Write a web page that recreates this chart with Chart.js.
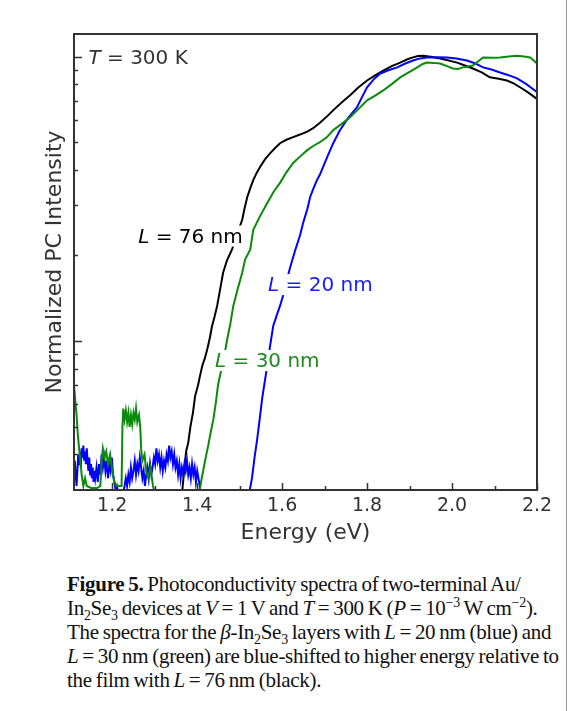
<!DOCTYPE html>
<html>
<head>
<meta charset="utf-8">
<script src="https://cdn.jsdelivr.net/npm/chart.js@4.4.1/dist/chart.umd.min.js"></script>
<style>
  html, body { margin: 0; padding: 0; background: #fff; }
  body { width: 584px; height: 711px; position: relative; overflow: hidden; }
  #wrap { position: absolute; left: 0; top: 0; width: 584px; height: 560px; }
  #edge { position: absolute; left: 566px; top: 0; width: 1px; height: 711px; background: #9a9a9a; }
  #caption {
    position: absolute; left: 67px; top: 572px; width: 498px;
    font-family: "Liberation Serif", "DejaVu Serif", serif;
    font-size: 21px; line-height: 24px; color: #111;
    letter-spacing: -0.3px; word-spacing: -1px; white-space: nowrap;
  }
  #caption i { font-style: italic; }
  #caption sub, #caption sup { font-size: 14px; line-height: 0; }
</style>
</head>
<body>
<div id="wrap"><canvas id="pc" width="584" height="560"></canvas></div>
<div id="edge"></div>
<div id="caption"><b>Figure 5.</b> Photoconductivity spectra of two-terminal Au/<br>In<sub>2</sub>Se<sub>3</sub> devices at <i>V</i>&thinsp;=&thinsp;1 V and <i>T</i>&thinsp;=&thinsp;300 K (<i>P</i>&thinsp;=&thinsp;10<sup>&minus;3</sup> W cm<sup>&minus;2</sup>).<br>The spectra for the <i>&beta;</i>-In<sub>2</sub>Se<sub>3</sub> layers with <i>L</i>&thinsp;=&thinsp;20 nm (blue) and<br><i>L</i>&thinsp;=&thinsp;30 nm (green) are blue-shifted to higher energy relative to<br>the film with <i>L</i>&thinsp;=&thinsp;76 nm (black).</div>
<script>
// photon energy (eV) and normalized PC intensity (log axis) per film
const blackE = [1.360, 1.366, 1.370, 1.374, 1.379, 1.384, 1.390, 1.395, 1.402, 1.407, 1.412, 1.418, 1.424, 1.430, 1.435, 1.441, 1.447, 1.454, 1.461, 1.470, 1.482, 1.494, 1.506, 1.512, 1.518, 1.525, 1.532, 1.540, 1.548, 1.560, 1.572, 1.584, 1.595, 1.610, 1.626, 1.642, 1.659, 1.673, 1.689, 1.705, 1.720, 1.740, 1.760, 1.780, 1.800, 1.820, 1.838, 1.858, 1.878, 1.895, 1.908, 1.920, 1.932, 1.950, 1.972, 1.990, 2.012, 2.030, 2.049, 2.070, 2.089, 2.110, 2.129, 2.145, 2.160, 2.178, 2.195, 2.200];
const blackI = [0.25, 0.31, 0.36, 0.41, 0.44, 0.50, 0.56, 0.64, 0.70, 0.76, 0.82, 0.87, 0.94, 1.03, 1.13, 1.22, 1.33, 1.52, 1.74, 1.92, 2.10, 2.38, 2.67, 2.95, 3.21, 3.45, 3.68, 3.90, 4.09, 4.36, 4.58, 4.78, 4.96, 5.10, 5.21, 5.32, 5.45, 5.60, 5.85, 6.15, 6.47, 6.90, 7.31, 7.80, 8.24, 8.60, 8.93, 9.25, 9.52, 9.78, 9.93, 10.05, 10.07, 9.98, 9.84, 9.70, 9.52, 9.30, 9.08, 8.80, 8.45, 8.35, 8.24, 8.05, 7.80, 7.50, 7.19, 7.10];

const greenE = [1.110, 1.113, 1.116, 1.119, 1.122, 1.125, 1.128, 1.132, 1.136, 1.140, 1.150, 1.165, 1.172, 1.175, 1.178, 1.182, 1.186, 1.190, 1.195, 1.200, 1.205, 1.210, 1.218, 1.222, 1.224, 1.226, 1.229, 1.232, 1.235, 1.238, 1.241, 1.244, 1.247, 1.250, 1.253, 1.256, 1.259, 1.263, 1.266, 1.268, 1.271, 1.276, 1.280, 1.285, 1.290, 1.296, 1.300, 1.405, 1.409, 1.414, 1.420, 1.426, 1.432, 1.438, 1.444, 1.449, 1.454, 1.459, 1.465, 1.471, 1.478, 1.485, 1.495, 1.506, 1.513, 1.525, 1.532, 1.548, 1.565, 1.580, 1.595, 1.610, 1.626, 1.642, 1.659, 1.673, 1.689, 1.705, 1.720, 1.740, 1.760, 1.780, 1.800, 1.820, 1.838, 1.858, 1.878, 1.898, 1.918, 1.930, 1.941, 1.956, 1.972, 1.988, 2.002, 2.014, 2.026, 2.038, 2.049, 2.061, 2.073, 2.093, 2.113, 2.133, 2.153, 2.170, 2.184, 2.195, 2.200];
const greenI = [0.70, 0.62, 0.55, 0.47, 0.42, 0.38, 0.34, 0.31, 0.33, 0.31, 0.305, 0.305, 0.31, 0.38, 0.42, 0.39, 0.41, 0.37, 0.40, 0.35, 0.32, 0.31, 0.31, 0.31, 0.50, 0.58, 0.53, 0.57, 0.52, 0.56, 0.50, 0.55, 0.51, 0.56, 0.53, 0.58, 0.52, 0.55, 0.50, 0.42, 0.38, 0.40, 0.35, 0.33, 0.36, 0.31, 0.29, 0.29, 0.32, 0.35, 0.39, 0.43, 0.48, 0.53, 0.61, 0.70, 0.76, 0.82, 0.91, 1.02, 1.15, 1.33, 1.52, 1.74, 1.94, 2.10, 2.46, 2.75, 3.06, 3.35, 3.60, 3.92, 4.23, 4.45, 4.69, 4.85, 5.00, 5.20, 5.51, 5.80, 6.12, 6.55, 7.02, 7.30, 7.60, 8.00, 8.45, 8.80, 9.16, 9.40, 9.52, 9.50, 9.45, 9.25, 9.08, 9.05, 9.16, 9.22, 9.30, 9.60, 9.93, 9.90, 9.93, 10.00, 10.07, 10.00, 9.93, 9.60, 9.45];

const blueE = [
  1.110, 1.112, 1.114, 1.116, 1.118, 1.120, 1.122, 1.124, 1.126, 1.128,
  1.130, 1.132, 1.134, 1.136, 1.138, 1.140, 1.142, 1.144, 1.146, 1.148,
  1.150, 1.152, 1.154, 1.156, 1.158, 1.160, 1.163, 1.166, 1.169, 1.172,
  1.175, 1.178, 1.181, 1.184, 1.187, 1.190, 1.193, 1.196, 1.199, 1.202,
  1.205, 1.208, 1.211, 1.215, 1.225, 1.229, 1.232, 1.235, 1.238, 1.241,
  1.244, 1.247, 1.250, 1.253, 1.256, 1.259, 1.262, 1.265, 1.268, 1.271,
  1.274, 1.277, 1.280, 1.283, 1.286, 1.289, 1.292, 1.295, 1.298, 1.301,
  1.304, 1.307, 1.310, 1.313, 1.316, 1.319, 1.322, 1.325, 1.328, 1.331,
  1.334, 1.337, 1.340, 1.343, 1.346, 1.349, 1.352, 1.355, 1.358, 1.361,
  1.364, 1.367, 1.370, 1.373, 1.376, 1.379, 1.382, 1.385, 1.388, 1.391,
  1.394, 1.397, 1.400, 1.403, 1.406, 1.410,
  1.515, 1.522, 1.529, 1.535, 1.541, 1.547, 1.553, 1.559, 1.565, 1.572, 1.579, 1.587, 1.595, 1.602, 1.610, 1.619, 1.630, 1.642, 1.650, 1.659, 1.666, 1.674, 1.682, 1.689, 1.706, 1.720, 1.736, 1.756, 1.776, 1.788, 1.800, 1.815, 1.831, 1.850, 1.871, 1.890, 1.908, 1.925, 1.941, 1.965, 1.988, 2.010, 2.035, 2.055, 2.073, 2.093, 2.113, 2.133, 2.153, 2.175, 2.195, 2.200];
const blueI = [
  0.33, 0.38, 0.34, 0.31, 0.35, 0.40, 0.37, 0.41, 0.36, 0.42,
  0.39, 0.43, 0.38, 0.41, 0.37, 0.42, 0.38, 0.35, 0.39, 0.34,
  0.37, 0.33, 0.36, 0.32, 0.35, 0.33, 0.36, 0.32, 0.37, 0.34,
  0.40, 0.36, 0.39, 0.35, 0.38, 0.33, 0.37, 0.35, 0.39, 0.34,
  0.32, 0.30, 0.31, 0.29, 0.29, 0.31, 0.33, 0.31, 0.34, 0.32,
  0.36, 0.33, 0.35, 0.38, 0.34, 0.37, 0.35, 0.39, 0.36, 0.33,
  0.35, 0.31, 0.34, 0.36, 0.33, 0.37, 0.34, 0.36, 0.39, 0.37,
  0.42, 0.38, 0.40, 0.36, 0.39, 0.35, 0.38, 0.36, 0.40, 0.38,
  0.43, 0.39, 0.41, 0.37, 0.40, 0.36, 0.38, 0.34, 0.37, 0.33,
  0.36, 0.34, 0.37, 0.35, 0.38, 0.34, 0.36, 0.33, 0.37, 0.34,
  0.36, 0.32, 0.35, 0.33, 0.31, 0.25,
  0.25, 0.29, 0.33, 0.39, 0.45, 0.53, 0.63, 0.72, 0.82, 0.97, 1.13, 1.23, 1.33, 1.44, 1.62, 1.82, 2.07, 2.35, 2.62, 2.90, 3.21, 3.45, 3.68, 3.85, 4.43, 4.95, 5.51, 6.10, 6.63, 7.20, 7.80, 8.30, 8.72, 8.95, 9.16, 9.45, 9.68, 9.85, 9.93, 9.95, 9.93, 9.85, 9.68, 9.45, 9.16, 9.00, 8.79, 8.60, 8.38, 8.00, 7.60, 7.50];

const xMajorTicks = [1.2, 1.4, 1.6, 1.8, 2.0, 2.2];
const xMinorTicks = [1.3, 1.5, 1.7, 1.9, 2.1];
const yMajorTicks = [1, 10];
const yMinorTicks = [0.4, 0.5, 0.6, 0.7, 0.8, 0.9, 2, 3, 4, 5, 6, 7, 8, 9];

const COLORS = { black: "#000000", green: "#0a8a0a", blue: "#0000ff", text: "#333333" };

function pts(xs, ys){
  return xs.map((x, i) => ({ x, y: ys[i] }));
}

// in-plot annotations, anchored in data coordinates (left edge, baseline)
const LABELS = [
  { e: 1.144, v: 9.45, italic: "T", rest: " = 300 K", color: "#333333" },
  { e: 1.261, v: 2.22, italic: "L", rest: " = 76 nm", color: "#000000" },
  { e: 1.567, v: 1.50, italic: "L", rest: " = 20 nm", color: "#1a1aff" },
  { e: 1.442, v: 0.811, italic: "L", rest: " = 30 nm", color: "#1e8a1e" }
];

const FONT = "'DejaVu Sans', Verdana, sans-serif";

const frameTicksLabels = {
  id: "frameTicksLabels",
  afterDatasetsDraw(chart){
    const { ctx, chartArea: a, scales: { x, y } } = chart;
    ctx.save();

    // labels sit on white boxes that hide the curves under them
    ctx.textBaseline = "alphabetic";
    for (const lb of LABELS){
      const px = x.getPixelForValue(lb.e);
      const py = y.getPixelForValue(lb.v);
      ctx.font = `italic 20px ${FONT}`;
      const w1 = ctx.measureText(lb.italic).width;
      ctx.font = `20px ${FONT}`;
      const w2 = ctx.measureText(lb.rest).width;
      ctx.fillStyle = "#fff";
      ctx.fillRect(px - 1, py - 17, w1 + w2 + 2, 21);
      ctx.fillStyle = lb.color;
      ctx.font = `italic 20px ${FONT}`;
      ctx.fillText(lb.italic, px, py);
      ctx.font = `20px ${FONT}`;
      ctx.fillText(lb.rest, px + w1, py);
    }

    ctx.strokeStyle = COLORS.text;
    ctx.lineWidth = 1.5;
    ctx.beginPath();
    for (const v of xMajorTicks){
      const p = Math.round(x.getPixelForValue(v)) + 0.5;
      ctx.moveTo(p, a.bottom); ctx.lineTo(p, a.bottom - 7);
    }
    for (const v of xMinorTicks){
      const p = Math.round(x.getPixelForValue(v)) + 0.5;
      ctx.moveTo(p, a.bottom); ctx.lineTo(p, a.bottom - 4);
    }
    for (const v of yMajorTicks){
      const p = Math.round(y.getPixelForValue(v)) + 0.5;
      ctx.moveTo(a.left, p); ctx.lineTo(a.left + 8, p);
    }
    for (const v of yMinorTicks){
      const p = Math.round(y.getPixelForValue(v)) + 0.5;
      ctx.moveTo(a.left, p); ctx.lineTo(a.left + 4, p);
    }
    ctx.stroke();

    ctx.lineWidth = 2;
    ctx.strokeRect(a.left, a.top, a.right - a.left, a.bottom - a.top);
    ctx.restore();
  }
};

function line(label, data, color){
  return {
    label, data,
    showLine: true,
    borderColor: color,
    backgroundColor: color,
    borderWidth: 2,
    pointRadius: 0,
    tension: 0
  };
}

new Chart(document.getElementById("pc"), {
  type: "scatter",
  data: {
    datasets: [
      line("L = 30 nm", pts(greenE, greenI), COLORS.green),
      line("L = 20 nm", pts(blueE, blueI), COLORS.blue),
      line("L = 76 nm", pts(blackE, blackI), COLORS.black)
    ]
  },
  options: {
    responsive: false,
    animation: false,
    layout: { padding: { left: 0, right: 47, top: 34, bottom: 0 } },
    plugins: { legend: { display: false }, tooltip: { enabled: false } },
    scales: {
      x: {
        type: "linear",
        min: 1.11, max: 2.2,
        afterBuildTicks: (s) => { s.ticks = xMajorTicks.map(v => ({ value: v })); },
        afterFit: (s) => { s.height = 70; },
        grid: { display: false, drawTicks: false },
        border: { display: false },
        ticks: {
          autoSkip: false, maxRotation: 0, padding: 5,
          color: COLORS.text,
          font: { family: FONT, size: 19 },
          callback: (v) => Number(v).toFixed(1)
        },
        title: {
          display: true, text: "Energy (eV)",
          color: COLORS.text,
          font: { family: FONT, size: 22 },
          padding: { top: 0, bottom: 14 }
        }
      },
      y: {
        type: "logarithmic",
        min: 0.3, max: 12,
        afterFit: (s) => { s.width = 74; },
        grid: { display: false, drawTicks: false },
        border: { display: false },
        ticks: { display: false },
        title: {
          display: true, text: "Normalized PC Intensity",
          color: COLORS.text,
          font: { family: FONT, size: 22 },
          padding: { top: 42, bottom: 0 }
        }
      }
    }
  },
  plugins: [frameTicksLabels]
});
</script>
</body>
</html>
